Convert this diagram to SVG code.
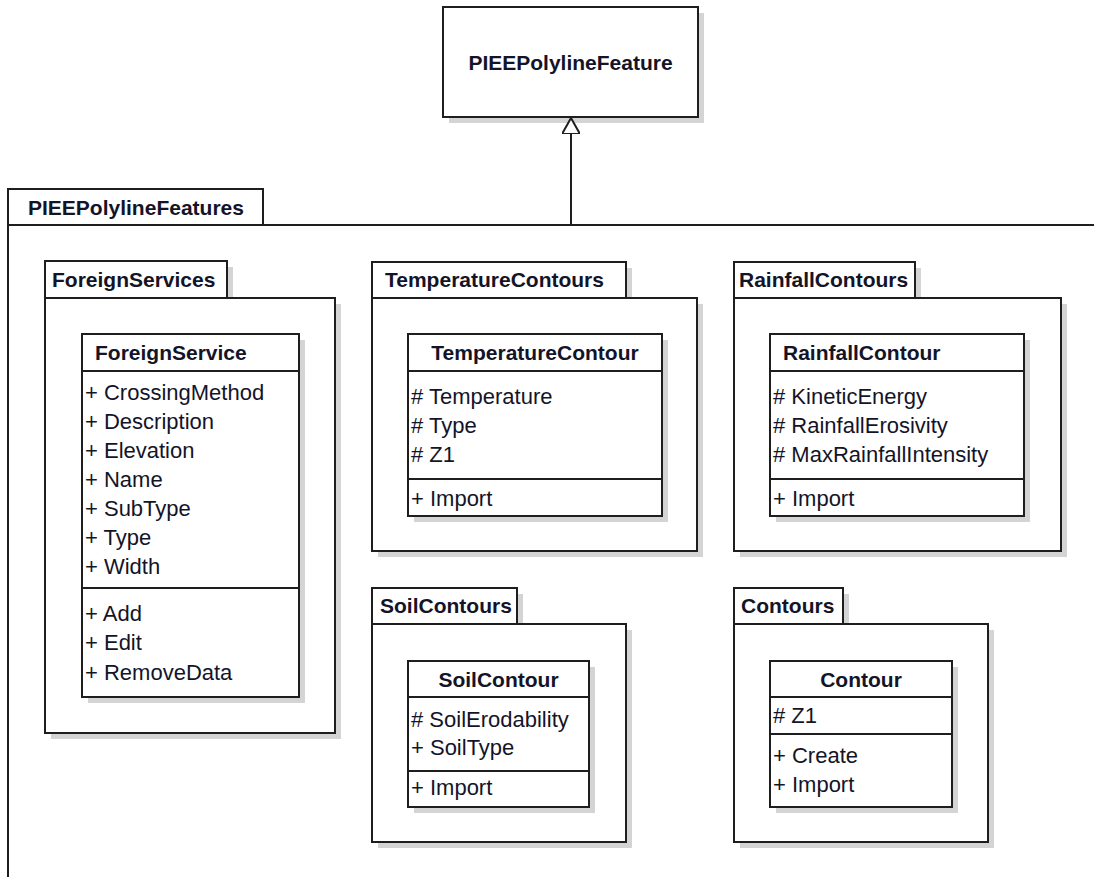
<svg xmlns="http://www.w3.org/2000/svg" width="1094" height="877" viewBox="0 0 1094 877">
  <style>
    .shadow { fill: #d4d4d4; stroke: none; }
    .box { fill: #ffffff; stroke: #1e1e1e; stroke-width: 2; }
    .line { stroke: #1e1e1e; stroke-width: 2; fill: none; }
    text { font-family: "Liberation Sans", Arial, sans-serif; font-size: 22px; fill: #141428; }
    .name { font-weight: bold; font-size: 21px; }
    .mid { text-anchor: middle; }
  </style>
  <defs>
    <marker id="generalization" viewBox="0 0 20 18" refX="0" refY="9" markerWidth="20" markerHeight="18" markerUnits="userSpaceOnUse" orient="auto">
      <path d="M 16 9 L 0 0 L 0 18 Z" fill="#ffffff" stroke="#1e1e1e" stroke-width="2"/>
    </marker>
  </defs>
  <rect width="1094" height="877" fill="#ffffff"/>

  <!-- outer package -->
  <g id="pkg-PIEEPolylineFeatures">
    <rect class="box" x="8" y="189" width="255" height="36"/>
    <rect class="box" x="8" y="225" width="1100" height="670"/>
    <text class="name" x="28" y="215">PIEEPolylineFeatures</text>
  </g>

  <!-- base class -->
  <g id="cls-PIEEPolylineFeature">
    <rect class="shadow" x="449" y="13" width="255" height="110"/>
    <rect class="box" x="443" y="7" width="255" height="110"/>
    <text class="name mid" x="570.5" y="70">PIEEPolylineFeature</text>
  </g>

  <!-- ForeignServices -->
  <g id="pkg-ForeignServices">
    <rect class="shadow" x="51" y="267" width="182" height="37"/>
    <rect class="shadow" x="51" y="304" width="290" height="435"/>
    <rect class="box" x="45" y="261" width="182" height="37"/>
    <rect class="box" x="45" y="298" width="290" height="435"/>
    <text class="name" x="52" y="287">ForeignServices</text>
  </g>
  <g id="cls-ForeignService">
    <rect class="shadow" x="88" y="340" width="217" height="363"/>
    <rect class="box" x="82" y="334" width="217" height="363"/>
    <line class="line" x1="82" y1="371" x2="299" y2="371"/>
    <line class="line" x1="82" y1="588" x2="299" y2="588"/>
    <text class="name" x="95" y="360">ForeignService</text>
    <text x="85" y="400">+ CrossingMethod</text>
    <text x="85" y="429">+ Description</text>
    <text x="85" y="458">+ Elevation</text>
    <text x="85" y="487">+ Name</text>
    <text x="85" y="516">+ SubType</text>
    <text x="85" y="545">+ Type</text>
    <text x="85" y="574">+ Width</text>
    <text x="85" y="621">+ Add</text>
    <text x="85" y="650">+ Edit</text>
    <text x="85" y="680">+ RemoveData</text>
  </g>

  <!-- TemperatureContours -->
  <g id="pkg-TemperatureContours">
    <rect class="shadow" x="378" y="268" width="254" height="36"/>
    <rect class="shadow" x="378" y="304" width="325" height="253"/>
    <rect class="box" x="372" y="262" width="254" height="36"/>
    <rect class="box" x="372" y="298" width="325" height="253"/>
    <text class="name" x="385" y="287">TemperatureContours</text>
  </g>
  <g id="cls-TemperatureContour">
    <rect class="shadow" x="414" y="340" width="254" height="182"/>
    <rect class="box" x="408" y="334" width="254" height="182"/>
    <line class="line" x1="408" y1="371" x2="662" y2="371"/>
    <line class="line" x1="408" y1="479" x2="662" y2="479"/>
    <text class="name mid" x="535" y="360">TemperatureContour</text>
    <text x="411" y="404"># Temperature</text>
    <text x="411" y="433"># Type</text>
    <text x="411" y="462"># Z1</text>
    <text x="411" y="506">+ Import</text>
  </g>

  <!-- RainfallContours -->
  <g id="pkg-RainfallContours">
    <rect class="shadow" x="740" y="268" width="181" height="36"/>
    <rect class="shadow" x="740" y="304" width="327" height="253"/>
    <rect class="box" x="734" y="262" width="181" height="36"/>
    <rect class="box" x="734" y="298" width="327" height="253"/>
    <text class="name" x="739" y="287">RainfallContours</text>
  </g>
  <g id="cls-RainfallContour">
    <rect class="shadow" x="776" y="340" width="254" height="182"/>
    <rect class="box" x="770" y="334" width="254" height="182"/>
    <line class="line" x1="770" y1="371" x2="1024" y2="371"/>
    <line class="line" x1="770" y1="479" x2="1024" y2="479"/>
    <text class="name" x="783" y="360">RainfallContour</text>
    <text x="773" y="404"># KineticEnergy</text>
    <text x="773" y="433"># RainfallErosivity</text>
    <text x="773" y="462"># MaxRainfallIntensity</text>
    <text x="773" y="506">+ Import</text>
  </g>

  <!-- SoilContours -->
  <g id="pkg-SoilContours">
    <rect class="shadow" x="378" y="594" width="145" height="36"/>
    <rect class="shadow" x="378" y="630" width="254" height="218"/>
    <rect class="box" x="372" y="588" width="145" height="36"/>
    <rect class="box" x="372" y="624" width="254" height="218"/>
    <text class="name" x="380" y="613">SoilContours</text>
  </g>
  <g id="cls-SoilContour">
    <rect class="shadow" x="414" y="667" width="181" height="146"/>
    <rect class="box" x="408" y="661" width="181" height="146"/>
    <line class="line" x1="408" y1="697" x2="589" y2="697"/>
    <line class="line" x1="408" y1="771" x2="589" y2="771"/>
    <text class="name mid" x="498.5" y="687">SoilContour</text>
    <text x="411" y="727"># SoilErodability</text>
    <text x="411" y="755">+ SoilType</text>
    <text x="411" y="795">+ Import</text>
  </g>

  <!-- Contours -->
  <g id="pkg-Contours">
    <rect class="shadow" x="740" y="594" width="109" height="36"/>
    <rect class="shadow" x="740" y="630" width="254" height="218"/>
    <rect class="box" x="734" y="588" width="109" height="36"/>
    <rect class="box" x="734" y="624" width="254" height="218"/>
    <text class="name" x="741" y="613">Contours</text>
  </g>
  <g id="cls-Contour">
    <rect class="shadow" x="776" y="667" width="182" height="146"/>
    <rect class="box" x="770" y="661" width="182" height="146"/>
    <line class="line" x1="770" y1="697" x2="952" y2="697"/>
    <line class="line" x1="770" y1="734" x2="952" y2="734"/>
    <text class="name mid" x="861" y="687">Contour</text>
    <text x="773" y="723"># Z1</text>
    <text x="773" y="763">+ Create</text>
    <text x="773" y="792">+ Import</text>
  </g>

  <!-- generalization: package realizes the base class -->
  <g id="connectors">
    <line class="line" x1="571" y1="225" x2="571" y2="134" marker-end="url(#generalization)"/>
  </g>
</svg>
